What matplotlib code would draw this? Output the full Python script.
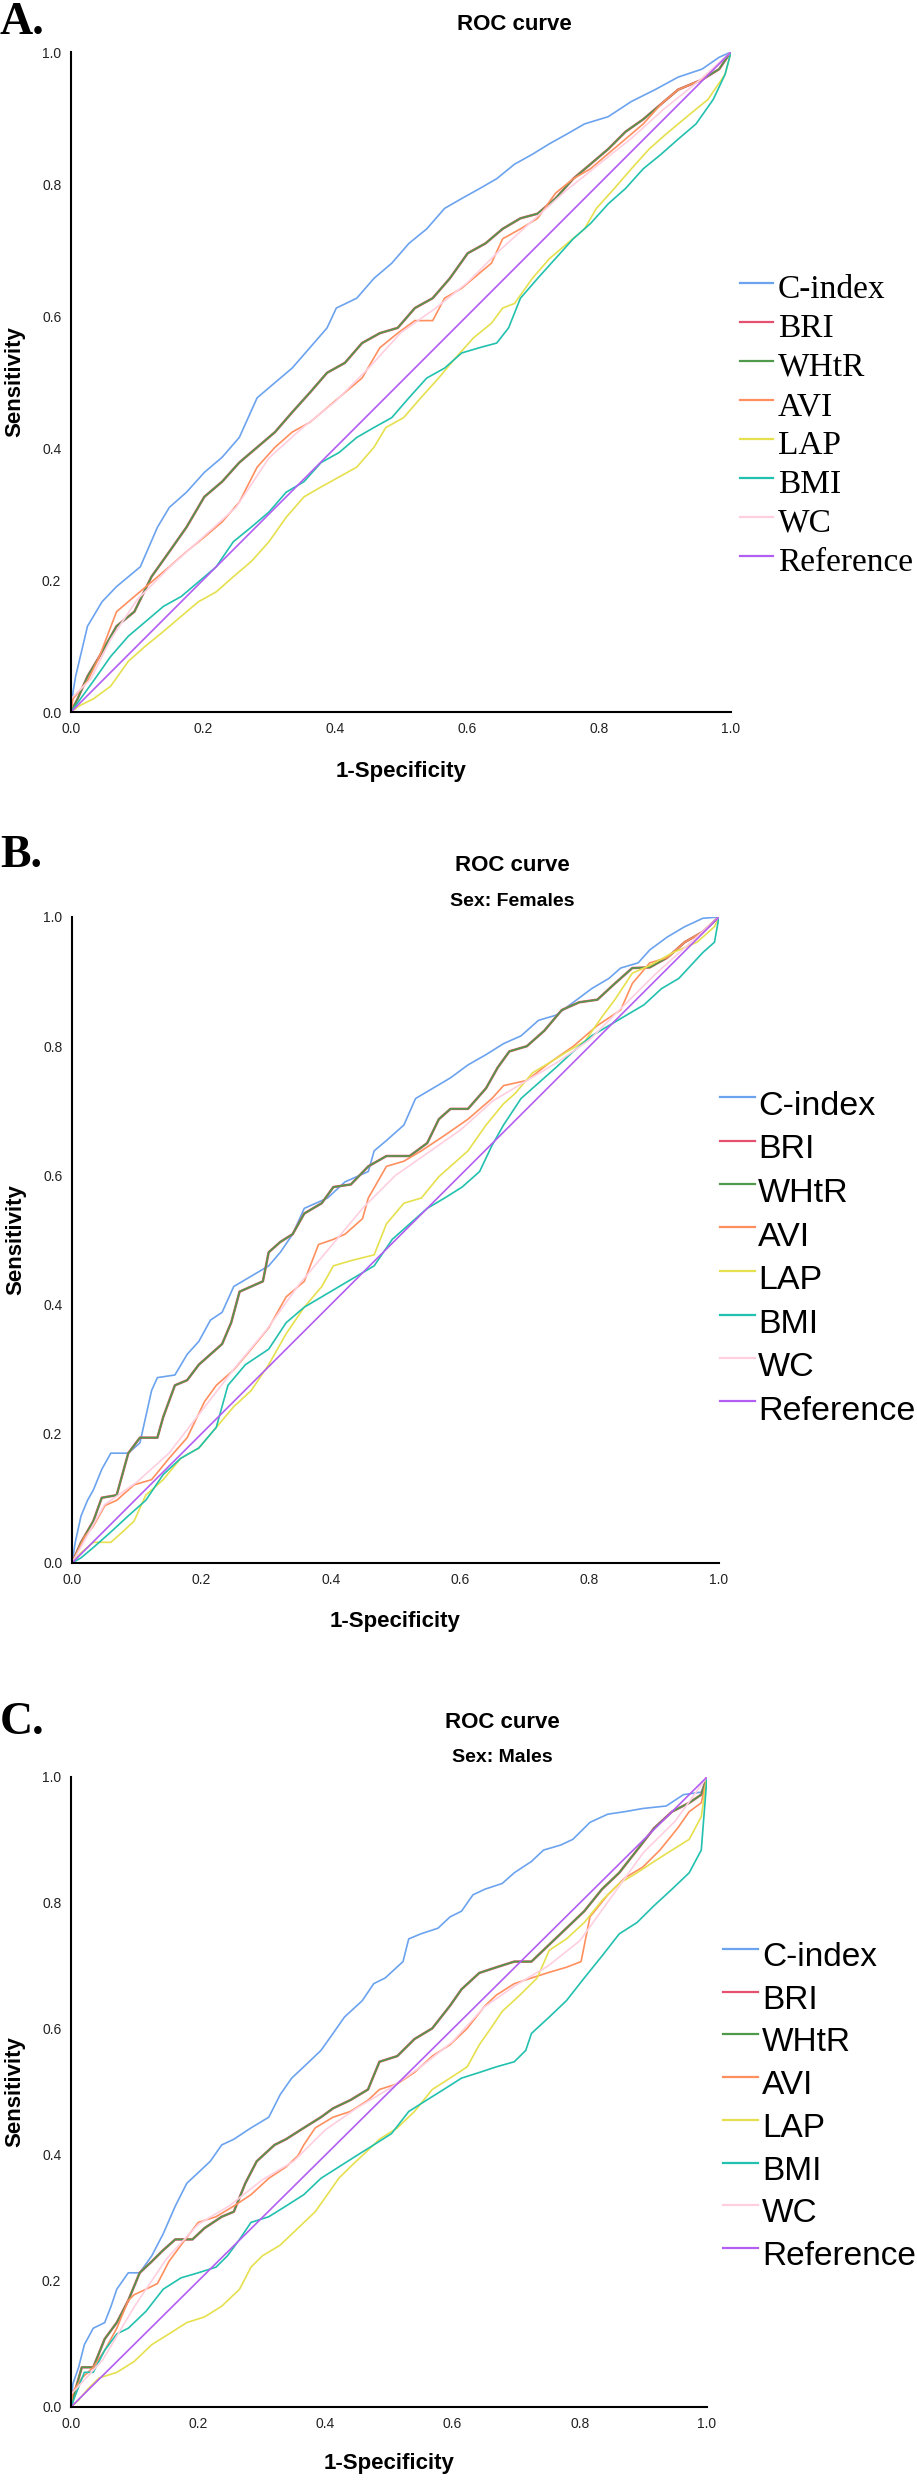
import matplotlib
matplotlib.use("Agg")
import matplotlib.pyplot as plt
from matplotlib.lines import Line2D

W, H = 917, 2480

LABELS = ["C-index", "BRI", "WHtR", "AVI", "LAP", "BMI", "WC", "Reference"]
COLORS = ["#6ba3ef", "#e4506e", "#4e9a4a", "#ff8f5e", "#e6e04e", "#22c0ae", "#ffcfe0", "#b25ef2"]
TICKS = [0.0, 0.2, 0.4, 0.6, 0.8, 1.0]

# ---- Panel A: all subjects (x = 1-specificity, y = sensitivity) ----
A_CINDEX = [(0, 0), (0.003, 0.03), (0.007, 0.054), (0.025, 0.13), (0.047, 0.167), (0.069, 0.19),
            (0.105, 0.22), (0.131, 0.28), (0.149, 0.31), (0.175, 0.333), (0.202, 0.363), (0.229, 0.386),
            (0.255, 0.416), (0.282, 0.476), (0.309, 0.499), (0.335, 0.521), (0.362, 0.552), (0.388, 0.582),
            (0.402, 0.612), (0.433, 0.627), (0.459, 0.657), (0.486, 0.68), (0.512, 0.71), (0.539, 0.732),
            (0.566, 0.763), (0.592, 0.778), (0.619, 0.793), (0.645, 0.808), (0.672, 0.83), (0.699, 0.845),
            (0.725, 0.861), (0.752, 0.876), (0.778, 0.891), (0.814, 0.902), (0.849, 0.925), (0.885, 0.943),
            (0.92, 0.962), (0.956, 0.974), (0.982, 0.992), (1, 1)]
A_WHTR = [(0, 0), (0.01, 0.02), (0.025, 0.054), (0.043, 0.084), (0.069, 0.13), (0.096, 0.152),
          (0.122, 0.205), (0.149, 0.243), (0.175, 0.28), (0.202, 0.326), (0.229, 0.349), (0.255, 0.378),
          (0.282, 0.401), (0.309, 0.424), (0.335, 0.454), (0.362, 0.484), (0.388, 0.514), (0.415, 0.529),
          (0.441, 0.559), (0.468, 0.574), (0.495, 0.582), (0.521, 0.612), (0.548, 0.627), (0.574, 0.657),
          (0.601, 0.695), (0.628, 0.71), (0.654, 0.732), (0.681, 0.748), (0.707, 0.755), (0.734, 0.778),
          (0.761, 0.808), (0.787, 0.83), (0.814, 0.853), (0.84, 0.879), (0.867, 0.898), (0.894, 0.921),
          (0.92, 0.943), (0.956, 0.958), (0.982, 0.974), (0.997, 0.996), (1, 1)]
A_BRI = A_WHTR  # BRI ranks subjects like WHtR, its curve lies under the green one
A_AVI = [(0, 0), (0.003, 0.02), (0.025, 0.047), (0.043, 0.084), (0.069, 0.152), (0.096, 0.175),
         (0.122, 0.197), (0.149, 0.22), (0.175, 0.243), (0.202, 0.265), (0.229, 0.288), (0.255, 0.318),
         (0.282, 0.371), (0.309, 0.401), (0.335, 0.424), (0.362, 0.439), (0.388, 0.461), (0.415, 0.484),
         (0.441, 0.506), (0.468, 0.552), (0.495, 0.574), (0.521, 0.593), (0.548, 0.593), (0.566, 0.627),
         (0.592, 0.642), (0.619, 0.665), (0.637, 0.68), (0.654, 0.717), (0.681, 0.732), (0.707, 0.748),
         (0.734, 0.786), (0.761, 0.808), (0.787, 0.823), (0.814, 0.846), (0.84, 0.868), (0.867, 0.891),
         (0.894, 0.921), (0.92, 0.943), (0.956, 0.958), (1, 1)]
A_LAP = [(0, 0), (0.012, 0.009), (0.034, 0.02), (0.06, 0.039), (0.087, 0.077), (0.113, 0.1),
         (0.14, 0.122), (0.167, 0.145), (0.193, 0.167), (0.22, 0.182), (0.246, 0.205), (0.273, 0.228),
         (0.3, 0.258), (0.326, 0.295), (0.353, 0.326), (0.379, 0.341), (0.406, 0.356), (0.433, 0.371),
         (0.459, 0.401), (0.477, 0.431), (0.504, 0.446), (0.53, 0.476), (0.557, 0.506), (0.583, 0.537),
         (0.61, 0.567), (0.637, 0.589), (0.654, 0.612), (0.672, 0.619), (0.699, 0.657), (0.725, 0.687),
         (0.752, 0.71), (0.778, 0.732), (0.796, 0.763), (0.823, 0.793), (0.849, 0.823), (0.876, 0.853),
         (0.902, 0.876), (0.938, 0.906), (0.965, 0.928), (0.991, 0.966), (1, 1)]
A_BMI = [(0, 0), (0.034, 0.047), (0.06, 0.084), (0.087, 0.115), (0.113, 0.137), (0.14, 0.16),
         (0.167, 0.175), (0.193, 0.197), (0.22, 0.22), (0.246, 0.258), (0.273, 0.28), (0.3, 0.303),
         (0.326, 0.333), (0.353, 0.349), (0.379, 0.378), (0.406, 0.393), (0.433, 0.416), (0.459, 0.431),
         (0.486, 0.446), (0.512, 0.476), (0.539, 0.506), (0.566, 0.521), (0.592, 0.544), (0.619, 0.552),
         (0.645, 0.559), (0.663, 0.582), (0.681, 0.627), (0.707, 0.657), (0.734, 0.687), (0.761, 0.717),
         (0.787, 0.74), (0.814, 0.77), (0.84, 0.793), (0.867, 0.823), (0.894, 0.845), (0.92, 0.868),
         (0.947, 0.891), (0.973, 0.928), (0.991, 0.966), (1, 1)]
A_WC = [(0, 0.02), (0.03, 0.05), (0.06, 0.11), (0.1, 0.17), (0.15, 0.22), (0.2, 0.265), (0.25, 0.31),
        (0.3, 0.385), (0.35, 0.43), (0.4, 0.47), (0.45, 0.52), (0.5, 0.575), (0.55, 0.61), (0.6, 0.65),
        (0.65, 0.7), (0.7, 0.745), (0.75, 0.79), (0.8, 0.83), (0.85, 0.87), (0.9, 0.915), (0.95, 0.955), (1, 1)]

# ---- Panel B: females ----
B_CINDEX = [(0, 0), (0.005, 0.032), (0.014, 0.073), (0.024, 0.097), (0.033, 0.113), (0.046, 0.145),
            (0.06, 0.17), (0.087, 0.17), (0.105, 0.186), (0.123, 0.267), (0.132, 0.287), (0.159, 0.291),
            (0.178, 0.323), (0.196, 0.343), (0.214, 0.376), (0.232, 0.388), (0.25, 0.428), (0.277, 0.444),
            (0.304, 0.46), (0.322, 0.481), (0.341, 0.509), (0.359, 0.549), (0.395, 0.565), (0.422, 0.59),
            (0.458, 0.606), (0.467, 0.638), (0.486, 0.654), (0.513, 0.678), (0.531, 0.719), (0.558, 0.735),
            (0.585, 0.751), (0.612, 0.771), (0.64, 0.787), (0.667, 0.804), (0.694, 0.816), (0.721, 0.84),
            (0.748, 0.848), (0.775, 0.868), (0.803, 0.889), (0.83, 0.905), (0.848, 0.921), (0.875, 0.929),
            (0.893, 0.949), (0.92, 0.969), (0.947, 0.985), (0.975, 0.998), (1, 1)]
B_WHTR = [(0, 0), (0.014, 0.032), (0.033, 0.065), (0.046, 0.101), (0.069, 0.105), (0.087, 0.17),
          (0.105, 0.194), (0.132, 0.194), (0.141, 0.226), (0.159, 0.275), (0.178, 0.283), (0.196, 0.307),
          (0.214, 0.323), (0.232, 0.339), (0.246, 0.372), (0.259, 0.42), (0.277, 0.428), (0.295, 0.436),
          (0.304, 0.481), (0.322, 0.497), (0.341, 0.509), (0.359, 0.541), (0.386, 0.557), (0.404, 0.582),
          (0.431, 0.586), (0.458, 0.614), (0.486, 0.63), (0.522, 0.63), (0.549, 0.65), (0.567, 0.687),
          (0.585, 0.703), (0.612, 0.703), (0.64, 0.735), (0.658, 0.767), (0.676, 0.792), (0.703, 0.8),
          (0.73, 0.824), (0.757, 0.856), (0.784, 0.868), (0.812, 0.872), (0.839, 0.897), (0.866, 0.921),
          (0.893, 0.922), (0.92, 0.937), (0.947, 0.961), (0.975, 0.977), (1, 1)]
B_BRI = B_WHTR
B_AVI = [(0, 0), (0.019, 0.04), (0.033, 0.057), (0.051, 0.089), (0.069, 0.097), (0.096, 0.121),
         (0.123, 0.129), (0.15, 0.162), (0.178, 0.194), (0.205, 0.25), (0.223, 0.275), (0.25, 0.299),
         (0.277, 0.331), (0.304, 0.364), (0.331, 0.412), (0.359, 0.436), (0.381, 0.493), (0.404, 0.501),
         (0.422, 0.509), (0.449, 0.533), (0.458, 0.565), (0.486, 0.614), (0.513, 0.622), (0.54, 0.638),
         (0.576, 0.662), (0.612, 0.687), (0.649, 0.719), (0.667, 0.739), (0.703, 0.747), (0.739, 0.775),
         (0.775, 0.8), (0.812, 0.832), (0.848, 0.856), (0.866, 0.897), (0.893, 0.929), (0.92, 0.937),
         (0.947, 0.961), (0.975, 0.977), (1, 1)]
B_LAP = [(0, 0), (0.014, 0.016), (0.033, 0.032), (0.06, 0.032), (0.078, 0.048), (0.096, 0.065),
         (0.114, 0.105), (0.141, 0.129), (0.168, 0.162), (0.196, 0.178), (0.223, 0.21), (0.25, 0.242),
         (0.277, 0.267), (0.304, 0.307), (0.331, 0.355), (0.359, 0.396), (0.386, 0.428), (0.404, 0.46),
         (0.431, 0.468), (0.467, 0.477), (0.486, 0.525), (0.513, 0.557), (0.54, 0.565), (0.567, 0.598),
         (0.585, 0.614), (0.612, 0.638), (0.64, 0.678), (0.667, 0.711), (0.685, 0.727), (0.712, 0.759),
         (0.739, 0.775), (0.766, 0.792), (0.793, 0.808), (0.821, 0.848), (0.839, 0.872), (0.866, 0.913),
         (0.893, 0.925), (0.929, 0.945), (0.966, 0.961), (0.993, 0.985), (1, 1)]
B_BMI = [(0, 0), (0.014, 0.008), (0.033, 0.024), (0.06, 0.048), (0.087, 0.073), (0.114, 0.097),
         (0.141, 0.137), (0.168, 0.162), (0.196, 0.178), (0.223, 0.21), (0.241, 0.275), (0.268, 0.307),
         (0.304, 0.331), (0.331, 0.372), (0.359, 0.396), (0.386, 0.412), (0.413, 0.428), (0.44, 0.444),
         (0.467, 0.46), (0.495, 0.501), (0.522, 0.525), (0.549, 0.549), (0.576, 0.565), (0.603, 0.582),
         (0.63, 0.606), (0.649, 0.646), (0.667, 0.678), (0.694, 0.719), (0.721, 0.743), (0.748, 0.767),
         (0.775, 0.792), (0.803, 0.816), (0.83, 0.832), (0.857, 0.848), (0.884, 0.864), (0.911, 0.889),
         (0.938, 0.905), (0.975, 0.945), (0.993, 0.961), (1, 1)]
B_WC = [(0, 0), (0.05, 0.09), (0.1, 0.125), (0.15, 0.17), (0.2, 0.235), (0.25, 0.3), (0.3, 0.36),
        (0.35, 0.43), (0.4, 0.49), (0.45, 0.55), (0.5, 0.6), (0.55, 0.635), (0.6, 0.67), (0.65, 0.715),
        (0.7, 0.745), (0.75, 0.775), (0.8, 0.81), (0.85, 0.86), (0.9, 0.91), (0.95, 0.955), (1, 1)]

# ---- Panel C: males ----
C_CINDEX = [(0, 0), (0.003, 0.037), (0.012, 0.063), (0.021, 0.099), (0.035, 0.125), (0.053, 0.134),
            (0.063, 0.16), (0.072, 0.187), (0.09, 0.213), (0.108, 0.213), (0.127, 0.24), (0.145, 0.275),
            (0.164, 0.319), (0.182, 0.355), (0.2, 0.372), (0.219, 0.39), (0.237, 0.416), (0.256, 0.425),
            (0.283, 0.443), (0.311, 0.46), (0.329, 0.496), (0.347, 0.522), (0.366, 0.54), (0.393, 0.566),
            (0.412, 0.593), (0.43, 0.619), (0.458, 0.645), (0.476, 0.672), (0.494, 0.681), (0.522, 0.707),
            (0.531, 0.743), (0.55, 0.751), (0.577, 0.76), (0.596, 0.778), (0.614, 0.787), (0.632, 0.813),
            (0.651, 0.822), (0.678, 0.831), (0.697, 0.848), (0.724, 0.866), (0.743, 0.884), (0.77, 0.892),
            (0.789, 0.901), (0.816, 0.928), (0.844, 0.941), (0.871, 0.945), (0.899, 0.95), (0.936, 0.954),
            (0.963, 0.972), (0.991, 0.976), (1, 1)]
C_WHTR = [(0, 0), (0.007, 0.028), (0.017, 0.063), (0.035, 0.063), (0.053, 0.108), (0.072, 0.134),
          (0.09, 0.169), (0.108, 0.213), (0.127, 0.231), (0.145, 0.249), (0.164, 0.266), (0.191, 0.266),
          (0.21, 0.284), (0.237, 0.302), (0.256, 0.31), (0.274, 0.355), (0.292, 0.39), (0.32, 0.416),
          (0.338, 0.425), (0.366, 0.443), (0.393, 0.46), (0.412, 0.474), (0.439, 0.487), (0.467, 0.504),
          (0.485, 0.548), (0.513, 0.557), (0.54, 0.584), (0.568, 0.601), (0.596, 0.637), (0.614, 0.663),
          (0.642, 0.689), (0.669, 0.698), (0.697, 0.707), (0.724, 0.707), (0.752, 0.734), (0.779, 0.76),
          (0.807, 0.787), (0.835, 0.822), (0.862, 0.848), (0.89, 0.884), (0.917, 0.919), (0.945, 0.945),
          (0.972, 0.959), (0.991, 0.972), (1, 1)]
C_BRI = C_WHTR
C_AVI = [(0, 0), (0.003, 0.024), (0.017, 0.046), (0.035, 0.063), (0.053, 0.09), (0.072, 0.125),
         (0.09, 0.169), (0.099, 0.178), (0.118, 0.187), (0.136, 0.196), (0.154, 0.231), (0.173, 0.257),
         (0.2, 0.293), (0.228, 0.302), (0.256, 0.319), (0.283, 0.337), (0.311, 0.363), (0.338, 0.381),
         (0.357, 0.399), (0.366, 0.416), (0.384, 0.443), (0.412, 0.46), (0.439, 0.469), (0.467, 0.487),
         (0.485, 0.504), (0.513, 0.513), (0.54, 0.531), (0.568, 0.557), (0.596, 0.575), (0.623, 0.601),
         (0.651, 0.637), (0.669, 0.654), (0.697, 0.672), (0.724, 0.681), (0.752, 0.69), (0.779, 0.698),
         (0.802, 0.707), (0.816, 0.778), (0.844, 0.813), (0.871, 0.84), (0.899, 0.857), (0.926, 0.884),
         (0.954, 0.919), (0.972, 0.945), (0.991, 0.959), (1, 1)]
C_LAP = [(0, 0), (0.012, 0.011), (0.026, 0.028), (0.044, 0.046), (0.072, 0.055), (0.099, 0.072),
         (0.127, 0.099), (0.154, 0.116), (0.182, 0.134), (0.21, 0.143), (0.237, 0.16), (0.265, 0.187),
         (0.283, 0.222), (0.301, 0.24), (0.329, 0.257), (0.357, 0.284), (0.384, 0.31), (0.403, 0.337),
         (0.421, 0.363), (0.439, 0.381), (0.458, 0.399), (0.485, 0.425), (0.513, 0.443), (0.54, 0.469),
         (0.568, 0.504), (0.596, 0.522), (0.623, 0.54), (0.642, 0.575), (0.66, 0.601), (0.678, 0.628),
         (0.706, 0.654), (0.733, 0.681), (0.752, 0.725), (0.779, 0.743), (0.807, 0.769), (0.835, 0.804),
         (0.862, 0.831), (0.89, 0.848), (0.917, 0.866), (0.945, 0.884), (0.972, 0.901), (0.991, 0.937), (1, 1)]
C_BMI = [(0, 0), (0.007, 0.019), (0.021, 0.055), (0.035, 0.055), (0.053, 0.09), (0.072, 0.116),
         (0.09, 0.125), (0.118, 0.152), (0.145, 0.187), (0.173, 0.205), (0.2, 0.213), (0.228, 0.222),
         (0.246, 0.24), (0.265, 0.266), (0.283, 0.293), (0.311, 0.302), (0.338, 0.319), (0.366, 0.337),
         (0.393, 0.363), (0.421, 0.381), (0.449, 0.399), (0.476, 0.416), (0.504, 0.434), (0.531, 0.469),
         (0.559, 0.487), (0.586, 0.504), (0.614, 0.522), (0.642, 0.531), (0.669, 0.54), (0.697, 0.548),
         (0.715, 0.566), (0.724, 0.593), (0.752, 0.619), (0.779, 0.645), (0.807, 0.681), (0.835, 0.716),
         (0.862, 0.751), (0.89, 0.769), (0.917, 0.796), (0.945, 0.822), (0.972, 0.848), (0.991, 0.884), (1, 1)]
C_WC = [(0, 0.02), (0.05, 0.075), (0.1, 0.16), (0.15, 0.235), (0.2, 0.29), (0.25, 0.32), (0.3, 0.36),
        (0.35, 0.39), (0.4, 0.44), (0.45, 0.475), (0.5, 0.505), (0.55, 0.54), (0.6, 0.58), (0.65, 0.635),
        (0.7, 0.67), (0.75, 0.7), (0.8, 0.74), (0.85, 0.81), (0.9, 0.88), (0.95, 0.93), (1, 1)]

REFERENCE = [(0, 0), (1, 1)]

# pixel layout of each panel (image coords, top-left origin)
PANELS = [
    dict(letter="A.", subtitle=None,
         curves=[A_CINDEX, A_BRI, A_WHTR, A_AVI, A_LAP, A_BMI, A_WC, REFERENCE],
         box=(71, 52, 731, 712), title_y=24, sub_y=None, xlabel_y=771, title_x=514, letter_y=2,
         leg_line=(740, 773, 283), leg_text=(778, 298), leg_step=39.0,
         leg_font=("Liberation Serif", 24)),
    dict(letter="B.", subtitle="Sex: Females",
         curves=[B_CINDEX, B_BRI, B_WHTR, B_AVI, B_LAP, B_BMI, B_WC, REFERENCE],
         box=(72, 917, 719, 1563), title_y=865, sub_y=901, xlabel_y=1622, title_x=512, letter_y=835,
         leg_line=(720, 755, 1097), leg_text=(758, 1115), leg_step=43.5,
         leg_font=("Liberation Sans", 24.5)),
    dict(letter="C.", subtitle="Sex: Males",
         curves=[C_CINDEX, C_BRI, C_WHTR, C_AVI, C_LAP, C_BMI, C_WC, REFERENCE],
         box=(71, 1777, 707, 2407), title_y=1722, sub_y=1757, xlabel_y=2464, title_x=502, letter_y=1702,
         leg_line=(723, 758, 1949), leg_text=(762, 1966), leg_step=42.7,
         leg_font=("Liberation Sans", 24)),
]

SANS = "Liberation Sans"
fig = plt.figure(figsize=(W / 100, H / 100), dpi=100)
fig.patch.set_facecolor("white")


def fx(px):
    return px / W


def fy(py):
    return 1 - py / H


for p in PANELS:
    x0, y0, x1, y1 = p["box"]
    ax = fig.add_axes([fx(x0), fy(y1), (x1 - x0) / W, (y1 - y0) / H])
    for label, color, pts in zip(LABELS, COLORS, p["curves"]):
        xs = [q[0] for q in pts]
        ys = [q[1] for q in pts]
        lw = 1.8 if label == "BRI" else 1.2
        ax.plot(xs, ys, color=color, lw=lw, label=label)

    ax.set_xlim(0, 1)
    ax.set_ylim(0, 1)
    ax.set_xticks(TICKS)
    ax.set_yticks(TICKS)
    ax.set_xticklabels([f"{t:.1f}" for t in TICKS], fontfamily=SANS, fontsize=10)
    ax.set_yticklabels([f"{t:.1f}" for t in TICKS], fontfamily=SANS, fontsize=10)
    ax.tick_params(length=0, pad=7, colors="#222222")
    for side in ["top", "right"]:
        ax.spines[side].set_visible(False)
    for side in ["left", "bottom"]:
        ax.spines[side].set_linewidth(1.5)
        ax.spines[side].set_color("black")
    ax.set_ylabel("Sensitivity", fontfamily=SANS, fontsize=16, fontweight="bold", labelpad=12)

    fig.text(fx((x0 + x1) / 2), fy(p["xlabel_y"]), "1-Specificity", fontfamily=SANS,
             fontsize=16, fontweight="bold", ha="center", va="center")
    fig.text(fx(p["title_x"]), fy(p["title_y"]), "ROC curve", fontfamily=SANS,
             fontsize=16, fontweight="bold", ha="center", va="center")
    if p["subtitle"]:
        fig.text(fx(p["title_x"]), fy(p["sub_y"]), p["subtitle"], fontfamily=SANS,
                 fontsize=14, fontweight="bold", ha="center", va="center")
    fig.text(fx(0), fy(p["letter_y"]), p["letter"], fontfamily="Liberation Serif",
             fontsize=33, fontweight="bold", ha="left", va="top")

    # legend to the right of the plot, one row per series
    lx0, lx1, ly = p["leg_line"]
    tx, ty = p["leg_text"]
    fam, size = p["leg_font"]
    for i, (label, color) in enumerate(zip(LABELS, COLORS)):
        dy = i * p["leg_step"]
        fig.add_artist(Line2D([fx(lx0), fx(lx1)], [fy(ly + dy), fy(ly + dy)],
                              transform=fig.transFigure, color=color, lw=1.6))
        fig.text(fx(tx), fy(ty + dy), label, fontfamily=fam, fontsize=size,
                 ha="left", va="baseline", color="black")

fig.savefig("out.png", dpi=100, facecolor="white")
